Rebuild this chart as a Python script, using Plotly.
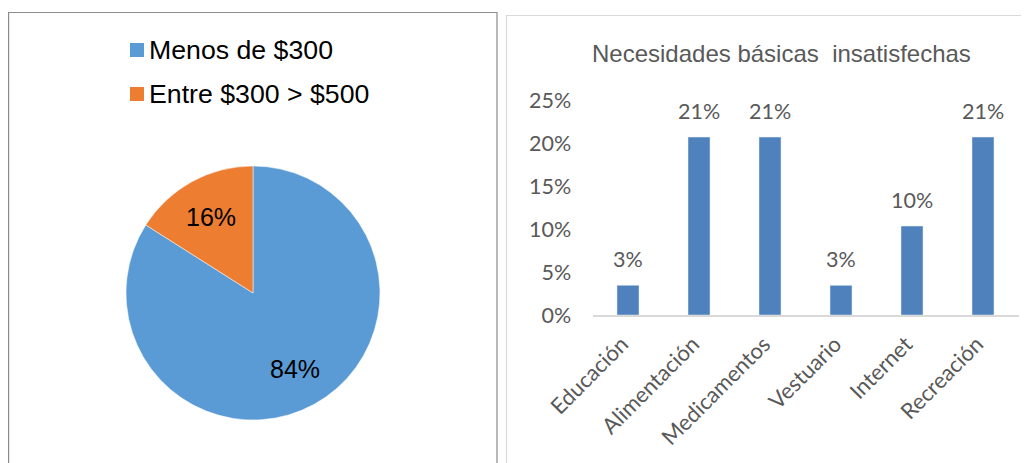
import math
import plotly.graph_objects as go

# pie: ingreso mensual
pie_labels = ["Menos de $300", "Entre $300 > $500"]
pie_values = [84, 16]
pie_colors = ["#5B9BD5", "#ED7D31"]

# bar: necesidades básicas insatisfechas
bar_categories = ["Educación", "Alimentación", "Medicamentos", "Vestuario", "Internet", "Recreación"]
bar_values = [0.0345, 0.2069, 0.2069, 0.0345, 0.1034, 0.2069]
bar_color = "#4F81BD"

y_ticks = [0, 0.05, 0.10, 0.15, 0.20, 0.25]
y_ticklabels = ["0%", "5%", "10%", "15%", "20%", "25%"]

title_text = "Necesidades básicas \u00a0insatisfechas"

W, H = 1029, 463
OFF = 8  # page body margin


def px_x(v):
    return (v - OFF) / W


def px_y(v):
    return 1 - (v - OFF) / H


fig = go.Figure()

# pie geometry (px in the screenshot)
pie_cx, pie_cy, pie_r = 253, 293, 127

fig.add_trace(go.Pie(
    labels=pie_labels,
    values=pie_values,
    marker=dict(colors=pie_colors, line=dict(color="white", width=0.5)),
    sort=False,
    direction="clockwise",
    rotation=0,
    textinfo="none",
    domain=dict(x=[px_x(pie_cx - 190), px_x(pie_cx + 190)],
                y=[px_y(pie_cy + pie_r), px_y(pie_cy - pie_r)]),
    showlegend=False,
    hoverinfo="label+percent",
))

fig.add_trace(go.Bar(
    x=bar_categories,
    y=bar_values,
    marker_color=bar_color,
    width=0.31,
    showlegend=False,
    xaxis="x", yaxis="y",
))

shapes = [
    # chart frames
    dict(type="rect", xref="paper", yref="paper",
         x0=0.6 / W, x1=px_x(497), y0=px_y(490), y1=px_y(12.5),
         line=dict(color="#8C8C8C", width=1.2), layer="below"),
    dict(type="rect", xref="paper", yref="paper",
         x0=px_x(506.5), x1=px_x(1050), y0=px_y(490), y1=px_y(15.5),
         line=dict(color="#D9D9D9", width=1.2), layer="below"),
]

annotations = [
    dict(text=title_text, xref="paper", yref="paper",
         x=px_x(781), y=px_y(53), xanchor="center", yanchor="middle",
         showarrow=False, font=dict(family="Liberation Sans, Arial", size=24, color="#595959")),
]

# pie percentage labels at slice mid-angles
total = sum(pie_values)
start = 0.0
for v in pie_values:
    frac = v / total
    mid = (start + frac / 2) * 2 * math.pi  # clockwise from 12 o'clock
    start += frac
    lx = pie_cx + 0.68 * pie_r * math.sin(mid)
    ly = pie_cy - 0.68 * pie_r * math.cos(mid)
    annotations.append(dict(text=f"{round(frac * 100)}%", xref="paper", yref="paper",
                            x=px_x(lx), y=px_y(ly), xanchor="center", yanchor="middle",
                            showarrow=False,
                            font=dict(family="Liberation Sans, Arial", size=25, color="black")))

# bar value labels
for c, v in zip(bar_categories, bar_values):
    annotations.append(dict(text=f"{round(v * 100)}%", xref="x", yref="y",
                            x=c, y=v, xanchor="center", yanchor="bottom", yshift=11,
                            showarrow=False,
                            font=dict(family="Lato", size=21.5, color="#595959")))

# manual legend for the pie
leg_y = [50, 94]
for lab, col, yy in zip(pie_labels, pie_colors, leg_y):
    shapes.append(dict(type="rect", xref="paper", yref="paper",
                       x0=px_x(130), x1=px_x(144), y0=px_y(yy + 7), y1=px_y(yy - 7),
                       fillcolor=col, line=dict(width=0)))
    annotations.append(dict(text=lab, xref="paper", yref="paper",
                            x=px_x(147), y=px_y(yy), xanchor="left", yanchor="middle",
                            showarrow=False,
                            font=dict(family="Liberation Sans, Arial", size=26.7, color="black")))

fig.update_layout(
    width=W, height=H,
    margin=dict(l=0, r=0, t=0, b=0, autoexpand=False),
    paper_bgcolor="white",
    plot_bgcolor="white",
    shapes=shapes,
    annotations=annotations,
    xaxis=dict(
        domain=[px_x(592.5), px_x(1018.5)],
        tickangle=-45,
        tickfont=dict(family="Lato", size=22, color="#595959"),
        ticklabelshift=-6, ticklabelstandoff=6,
        showline=True, linecolor="#D9D9D9", linewidth=1.5,
        ticks="", showgrid=False, anchor="y", automargin=False,
    ),
    yaxis=dict(
        domain=[px_y(315), px_y(100)],
        range=[0, 0.25],
        tickvals=y_ticks,
        ticktext=y_ticklabels,
        tickfont=dict(family="Lato", size=21.5, color="#595959"),
        showgrid=False, zeroline=False, showline=False,
        ticks="outside", ticklen=16, tickcolor="rgba(0,0,0,0)",
        anchor="x", automargin=False,
    ),
)

fig.write_html("out.html")
